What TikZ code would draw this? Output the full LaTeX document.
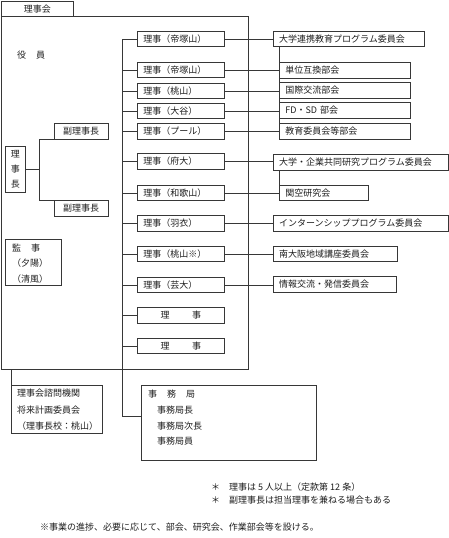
\documentclass[tikz,border=0pt]{standalone}
\usepackage{fontspec}
\setmainfont{Noto Sans CJK JP}
\usepackage{xcolor}
\usepackage{tikz}
\usetikzlibrary{positioning,calc}
\definecolor{OrgLine}{RGB}{55,55,55}
\definecolor{OrgText}{RGB}{30,30,30}

\begin{document}
\begin{tikzpicture}[x=1pt,y=-1pt,
    every node/.style={font=\fontsize{9}{11}\selectfont, text=OrgText},
    line/.style={draw=OrgLine, line width=0.7pt},
    txt/.style={inner sep=0pt},
    framebox/.style={line, inner sep=0pt, anchor=north west},
    rijibox/.style={line, anchor=west, minimum height=15.5pt, inner xsep=6pt, inner ysep=0pt, text width=75pt, align=left},
    kaibox/.style={line, anchor=west, minimum height=15.5pt, inner xsep=6pt, inner ysep=0pt, align=left},
    fukubox/.style={line, minimum width=54pt, minimum height=15.5pt, inner sep=0pt}
  ]
    \useasboundingbox (0,0) rectangle (449,538);
    \node[framebox, minimum width=72pt, minimum height=15pt] (tab) at (1,1) {理事会};
    \node[framebox, minimum width=247pt, minimum height=353pt] (frame) at (1,16) {};
    \node[txt, anchor=west] (yakuin) at (17,55.5) {役\hspace{1.1em}員};
    \node[framebox, minimum width=20pt, minimum height=46pt, align=center, font=\fontsize{9}{15}\selectfont] (rijicho) at (5,145.7) {理\\事\\長};
    \node[fukubox] (fuku1) at (81,131.2) {副理事長};
    \node[fukubox] (fuku2) at (81,208.4) {副理事長};
    \node[framebox, minimum width=56pt, minimum height=46.5pt] (kanji) at (5,238.7) {};
    \node[txt, anchor=north west, align=left, font=\fontsize{9}{15.5}\selectfont] (kanjitxt) at (12,243.5) {監\hspace{1.1em}事\\（夕陽）\\（清風）};
    \foreach \i/\y/\t in {1/39/理事（帝塚山）, 2/70/理事（帝塚山）, 3/91/理事（桃山）, 4/111/理事（大谷）,
        5/131.5/理事（プール）, 6/161.5/理事（府大）, 7/193/理事（和歌山）, 8/223.5/理事（羽衣）,
        9/254/理事（桃山※）, 10/285/理事（芸大）, 11/315.5/\makebox[\linewidth]{理\hspace{2.5em}事},
        12/346/\makebox[\linewidth]{理\hspace{2.5em}事}}
      {\node[rijibox] (riji\i) at (137,\y) {\t};}
    \foreach \i/\x/\y/\w/\t in {1/272.7/39/139.3/大学連携教育プログラム委員会, 2/279/70.2/119/単位互換部会,
        3/279/90.2/119/国際交流部会, 4/279/110.5/119/FD・SD 部会, 5/279/131.5/119/教育委員会等部会,
        6/272.7/162.5/163.3/大学・企業共同研究プログラム委員会, 7/279/193/77/関空研究会,
        8/272.7/223.5/163.3/インターンシッププログラム委員会, 9/272.7/254/112/南大阪地域講座委員会,
        10/272.7/284.5/111/情報交流・発信委員会}
      {\node[kaibox, text width=\w pt] (kai\i) at (\x,\y) {\t};}
    \node[framebox, minimum width=91pt, minimum height=48pt] (shimon) at (11,385) {};
    \node[txt, anchor=north west, align=left, font=\fontsize{9}{16.4}\selectfont] (shimontxt) at (17,389) {理事会諮問機関\\将来計画委員会\\（理事長校：桃山）};
    \node[framebox, minimum width=175pt, minimum height=75pt] (jimu) at (141,385) {};
    \node[txt, anchor=north west, align=left, font=\fontsize{9}{15.7}\selectfont] (jimutxt) at (148,390) {事\hspace{1.1em}務\hspace{1.1em}局\\\hspace{1em}事務局長\\\hspace{1em}事務局次長\\\hspace{1em}事務局員};
    \node[txt, anchor=west] (note1) at (211,487) {＊\hspace{1em}理事は 5 人以上（定款第 12 条）};
    \node[txt, anchor=west] (note2) at (211,500.5) {＊\hspace{1em}副理事長は担当理事を兼ねる場合もある};
    \node[txt, anchor=west] (note3) at (40,527) {※事業の進捗、必要に応じて、部会、研究会、作業部会等を設ける。};
    \draw[line] (fuku1.south west) -- ++(-14,0) coordinate (br) -- (br |- fuku2.north west) -- (fuku2.north west);
    \draw[line] (rijicho.east) -- (rijicho.east -| br);
    \draw[line] (riji1.west) -- ++(-15,0) coordinate (sp) |- ([yshift=6.5pt]jimu.west);
    \foreach \i in {2,...,12} {\draw[line] (riji\i.west) -- (riji\i.west -| sp);}
    \foreach \a/\b in {1/1, 2/2, 3/3, 4/4, 5/5, 6/6, 7/7, 8/8, 9/9, 10/10}
      {\draw[line] (riji\a.east) -- (riji\a.east -| kai\b.west);}
    \draw[line] (kai2.west |- kai1.south) -- (kai5.south west);
    \draw[line] (kai7.west |- kai6.south) -- (kai7.south west);
    \draw[line] (shimon.north west) -- (shimon.north west |- frame.south);
  \end{tikzpicture}
\end{document}
